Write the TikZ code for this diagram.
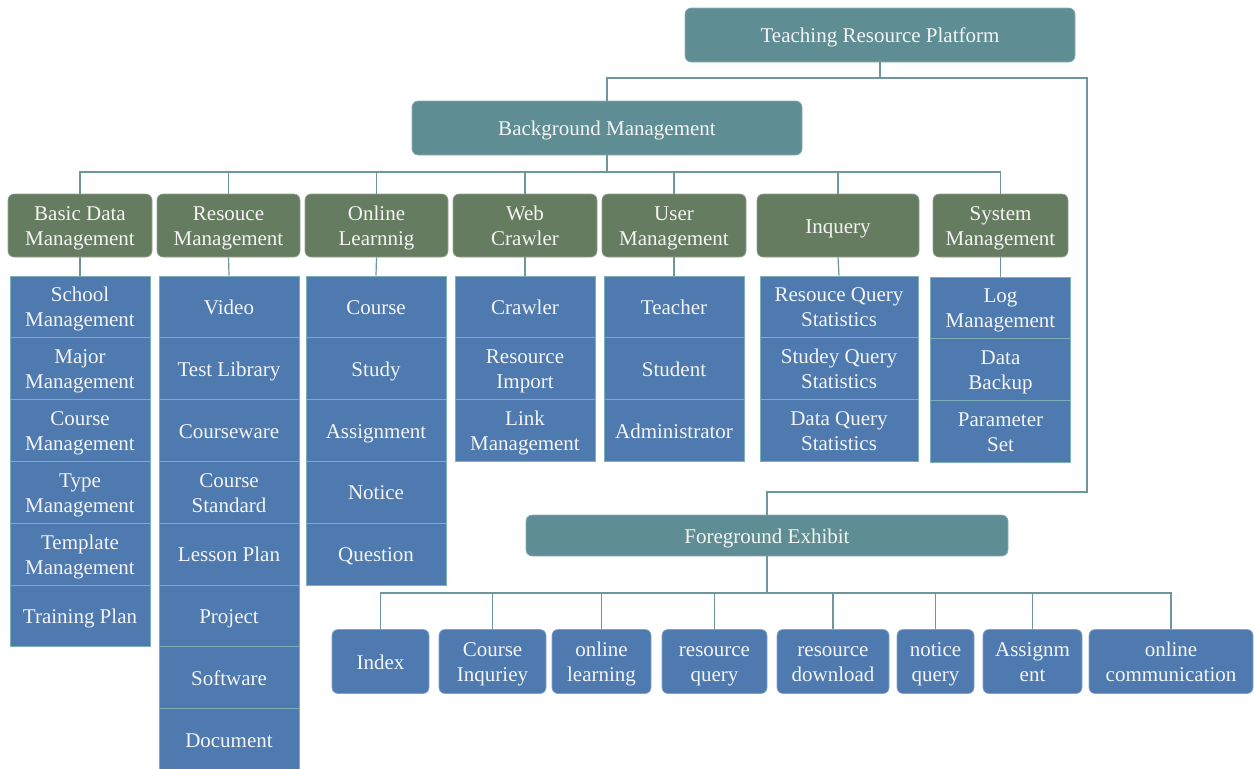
\documentclass[tikz,border=0pt]{standalone}
\usepackage{fontspec}
\setmainfont{Liberation Serif}
\definecolor{tealbox}{HTML}{5E8E93}
\definecolor{greenbox}{HTML}{667C60}
\definecolor{bluebox}{HTML}{4E7AB0}
\definecolor{cellline}{HTML}{7DAFB9}
\definecolor{connline}{HTML}{6E979C}
\definecolor{txt}{HTML}{F4F4F4}
\newcommand{\mystrut}{\rule[-5pt]{0pt}{25pt}}
\newcommand{\T}[1]{\mystrut#1\mystrut}
\tikzset{
  base/.style={inner sep=0pt, align=center, text=txt, font=\fontsize{21}{25}\selectfont},
  tealnode/.style={base, fill=tealbox, draw=tealbox!70!white, line width=0.6pt, rounded corners=6pt},
  greennode/.style={base, fill=greenbox, draw=greenbox!70!white, line width=0.6pt, rounded corners=6pt, minimum height=63pt},
  cell/.style={base, fill=bluebox, draw=cellline, line width=1pt, minimum height=61.8pt},
  leaf/.style={base, fill=bluebox, draw=bluebox!70!white, line width=0.6pt, rounded corners=6pt, minimum height=64pt},
  conn/.style={draw=connline, line width=1.2pt},
}
\begin{document}
\begin{tikzpicture}[x=1pt,y=-1pt]
\useasboundingbox (0,0) rectangle (1254,769);

% top level
\node[tealnode, minimum width=390pt, minimum height=54pt] (tp) at (880,35) {\T{Teaching Resource Platform}};
\node[tealnode, minimum width=390pt, minimum height=54pt] (bg) at (607,128) {\T{Background Management}};
\node[tealnode, minimum width=482pt, minimum height=41pt] (fg) at (767,535.5) {\T{Foreground Exhibit}};

\coordinate (j1) at (880,78);
\coordinate (rturn) at (1087,492);
\draw[conn] (tp.south) -- (j1);
\draw[conn] (j1) -| (bg.north);
\draw[conn] (j1) -| (rturn) -| (fg.north);

% green level
\node[greennode, minimum width=144pt] (g1) at (80,225.5) {\T{Basic Data\\Management}};
\node[greennode, minimum width=143pt] (g2) at (228.5,225.5) {\T{Resouce\\Management}};
\node[greennode, minimum width=143pt] (g3) at (376.5,225.5) {\T{Online\\Learnnig}};
\node[greennode, minimum width=144pt] (g4) at (525,225.5) {\T{Web\\Crawler}};
\node[greennode, minimum width=144pt] (g5) at (674,225.5) {\T{User\\Management}};
\node[greennode, minimum width=162pt] (g6) at (838,225.5) {\T{Inquery}};
\node[greennode, minimum width=135pt] (g7) at (1000.5,225.5) {\T{System\\Management}};

\coordinate (j2) at (607,172);
\draw[conn] (bg.south) -- (j2);
\foreach \g in {g1,g2,g3,g4,g5,g6,g7} { \draw[conn] (j2) -| (\g.north); }

% columns
\foreach \t [count=\i] in {{School\\Management},{Major\\Management},{Course\\Management},{Type\\Management},{Template\\Management},{Training Plan}}
  { \node[cell, minimum width=140pt] (c1-\i) at (80,{276+30.9+61.8*(\i-1)}) {\T{\t}}; }
\foreach \t [count=\i] in {{Video},{Test Library},{Courseware},{Course\\Standard},{Lesson Plan},{Project},{Software},{Document}}
  { \node[cell, minimum width=140pt] (c2-\i) at (229,{276+30.9+61.8*(\i-1)}) {\T{\t}}; }
\foreach \t [count=\i] in {{Course},{Study},{Assignment},{Notice},{Question}}
  { \node[cell, minimum width=140pt] (c3-\i) at (376,{276+30.9+61.8*(\i-1)}) {\T{\t}}; }
\foreach \t [count=\i] in {{Crawler},{Resource\\Import},{Link\\Management}}
  { \node[cell, minimum width=140pt] (c4-\i) at (525,{276+30.9+61.8*(\i-1)}) {\T{\t}}; }
\foreach \t [count=\i] in {{Teacher},{Student},{Administrator}}
  { \node[cell, minimum width=140pt] (c5-\i) at (674,{276+30.9+61.8*(\i-1)}) {\T{\t}}; }
\foreach \t [count=\i] in {{Resouce Query\\Statistics},{Studey Query\\Statistics},{Data Query\\Statistics}}
  { \node[cell, minimum width=158pt] (c6-\i) at (839,{276+30.9+61.8*(\i-1)}) {\T{\t}}; }
\foreach \t [count=\i] in {{Log\\Management},{Data\\Backup},{Parameter\\Set}}
  { \node[cell, minimum width=140pt] (c7-\i) at (1000.5,{277+30.9+61.8*(\i-1)}) {\T{\t}}; }

\foreach \k in {1,...,7} { \draw[conn] (g\k.south) -- (c\k-1.north); }

% bottom level
\node[leaf, minimum width=97pt] (b1) at (380.5,661.5) {\T{Index}};
\node[leaf, minimum width=107pt] (b2) at (492.5,661.5) {\T{Course\\Inquriey}};
\node[leaf, minimum width=99pt] (b3) at (601.5,661.5) {\T{online\\learning}};
\node[leaf, minimum width=105pt] (b4) at (714.5,661.5) {\T{resource\\query}};
\node[leaf, minimum width=112pt] (b5) at (833,661.5) {\T{resource\\download}};
\node[leaf, minimum width=77pt] (b6) at (935.5,661.5) {\T{notice\\query}};
\node[leaf, minimum width=99pt] (b7) at (1032.5,661.5) {\T{Assignm\\ent}};
\node[leaf, minimum width=164pt] (b8) at (1171,661.5) {\T{online\\communication}};

\coordinate (j3) at (767,593);
\draw[conn] (fg.south) -- (j3);
\foreach \b in {b1,b2,b3,b4,b5,b6,b7,b8} { \draw[conn] (j3) -| (\b.north); }
\end{tikzpicture}
\end{document}
